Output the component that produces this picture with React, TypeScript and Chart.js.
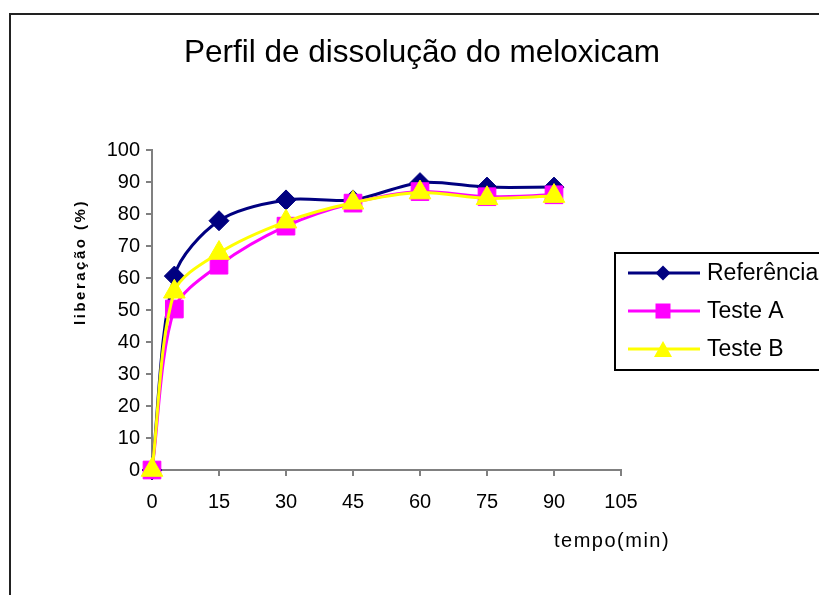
import React, { useEffect, useRef } from "react";
import { Chart, registerables } from "chart.js";

Chart.register(...registerables);

const times = [0, 5, 15, 30, 45, 60, 75, 90];
const referencia = [0, 60.6, 77.9, 84.4, 84.4, 89.8, 88.4, 88.4];
const testeA = [0, 50.3, 64, 76.2, 83.4, 87, 85.4, 86];
const testeB = [0, 55.7, 67.8, 77.6, 83.5, 86.7, 84.9, 85.6];
const seriesNames = ["Referência", "Teste A", "Teste B"];
const titleText = "Perfil de dissolução do meloxicam";
const xTitle = "tempo(min)";
const yTitle = "liberação (%)";

const NAVY = "#000080";
const MAGENTA = "#FF00FF";
const YELLOW = "#FFFF00";
const FONT = "'Liberation Sans', Arial, sans-serif";

function toPts(vals: number[]) {
  return times.map((t, i) => ({ x: t, y: vals[i] }));
}

function drawMarker(ctx: CanvasRenderingContext2D, kind: string, x: number, y: number, color: string) {
  ctx.save();
  ctx.fillStyle = color;
  ctx.beginPath();
  if (kind === "diamond") {
    const r = 7.5;
    ctx.moveTo(x - r, y);
    ctx.lineTo(x, y - r);
    ctx.lineTo(x + r, y);
    ctx.lineTo(x, y + r);
  } else if (kind === "square") {
    const s = 7.5;
    ctx.rect(x - s, y - s, 2 * s, 2 * s);
  } else {
    const w = 9, h = 8;
    ctx.moveTo(x, y - h);
    ctx.lineTo(x + w, y + h);
    ctx.lineTo(x - w, y + h);
  }
  ctx.closePath();
  ctx.fill();
  ctx.restore();
}

const decorPlugin = {
  id: "decor",
  beforeDraw(chart: any) {
    const ctx = chart.ctx as CanvasRenderingContext2D;
    ctx.save();
    ctx.fillStyle = "#ffffff";
    ctx.fillRect(0, 0, chart.width, chart.height);
    ctx.restore();
  },
  afterDraw(chart: any) {
    const ctx = chart.ctx as CanvasRenderingContext2D;
    ctx.save();
    // outer frame
    ctx.strokeStyle = "#222222";
    ctx.lineWidth = 2;
    ctx.strokeRect(10, 14, 1000, 1000);

    // title
    ctx.fillStyle = "#000";
    ctx.font = `31.5px ${FONT}`;
    ctx.textAlign = "center";
    ctx.textBaseline = "middle";
    ctx.fillText(titleText, 422, 53);

    // x axis title
    ctx.font = `20px ${FONT}`;
    (ctx as any).letterSpacing = "1.5px";
    ctx.textAlign = "left";
    ctx.fillText(xTitle, 554, 541);

    // y axis title
    ctx.save();
    ctx.translate(81, 262);
    ctx.rotate(-Math.PI / 2);
    ctx.font = `bold 15px ${FONT}`;
    (ctx as any).letterSpacing = "2.5px";
    ctx.textAlign = "center";
    ctx.fillText(yTitle, 0, 0);
    ctx.restore();
    (ctx as any).letterSpacing = "0px";

    // legend
    ctx.fillStyle = "#ffffff";
    ctx.fillRect(615, 253, 300, 117);
    ctx.strokeStyle = "#000";
    ctx.lineWidth = 2;
    ctx.strokeRect(615, 253, 300, 117);
    const colors = [NAVY, MAGENTA, YELLOW];
    const kinds = ["diamond", "square", "triangle"];
    const rows = [273, 311, 349];
    seriesNames.forEach((name, i) => {
      const y = rows[i];
      ctx.strokeStyle = colors[i];
      ctx.lineWidth = 3;
      ctx.beginPath();
      ctx.moveTo(628, y);
      ctx.lineTo(700, y);
      ctx.stroke();
      drawMarker(ctx, kinds[i], 663, y, colors[i]);
      ctx.fillStyle = "#000";
      ctx.font = `23px ${FONT}`;
      ctx.textAlign = "left";
      ctx.textBaseline = "middle";
      ctx.fillText(name, 707, y + 1);
    });
    ctx.restore();
  },
};

export default function App() {
  const ref = useRef<HTMLCanvasElement | null>(null);
  useEffect(() => {
    if (!ref.current) return;
    const axisGrey = "#808080";
    const chart = new Chart(ref.current, {
      type: "line",
      data: {
        datasets: [
          {
            label: seriesNames[0],
            data: toPts(referencia),
            borderColor: NAVY,
            backgroundColor: NAVY,
            borderWidth: 3,
            pointStyle: "rectRot",
            pointRadius: 10,
            pointBorderWidth: 1,
            pointBorderColor: NAVY,
            pointBackgroundColor: NAVY,
            tension: 0.3,
            clip: false as any,
            order: 2,
          },
          {
            label: seriesNames[1],
            data: toPts(testeA),
            borderColor: MAGENTA,
            backgroundColor: MAGENTA,
            borderWidth: 3,
            pointStyle: "rect",
            pointRadius: 12.5,
            pointBorderWidth: 1,
            pointBorderColor: MAGENTA,
            pointBackgroundColor: MAGENTA,
            tension: 0.3,
            clip: false as any,
            order: 1,
          },
          {
            label: seriesNames[2],
            data: toPts(testeB),
            borderColor: YELLOW,
            backgroundColor: YELLOW,
            borderWidth: 3,
            pointStyle: "triangle",
            pointRadius: 12.5,
            pointBorderWidth: 1,
            pointBorderColor: YELLOW,
            pointBackgroundColor: YELLOW,
            tension: 0.3,
            clip: false as any,
            order: 0,
          },
        ],
      },
      options: {
        responsive: false,
        animation: false,
        layout: { padding: { left: 0, top: 150, right: 198, bottom: 0 } },
        plugins: {
          legend: { display: false },
          title: { display: false },
          tooltip: { enabled: false },
        },
        scales: {
          x: {
            type: "linear",
            min: 0,
            max: 105,
            ticks: {
              stepSize: 15,
              color: "#000",
              font: { family: FONT, size: 20 },
              padding: 14,
              maxRotation: 0,
            },
            grid: {
              drawOnChartArea: false,
              color: axisGrey,
              lineWidth: 2,
              tickLength: 6,
            },
            border: { color: axisGrey, width: 2 },
            afterFit: (scale: any) => {
              scale.height = 125;
            },
          },
          y: {
            min: 0,
            max: 100,
            ticks: {
              stepSize: 10,
              color: "#000",
              font: { family: FONT, size: 20 },
              padding: 6,
            },
            grid: {
              drawOnChartArea: false,
              color: axisGrey,
              lineWidth: 2,
              tickLength: 6,
            },
            border: { color: axisGrey, width: 2 },
            afterFit: (scale: any) => {
              scale.width = 152;
            },
          },
        },
      } as any,
      plugins: [decorPlugin],
    });
    return () => chart.destroy();
  }, []);
  return (
    <div style={{ position: "absolute", left: 0, top: 0, width: 819, height: 595 }}>
      <canvas ref={ref} width={819} height={595} />
    </div>
  );
}
